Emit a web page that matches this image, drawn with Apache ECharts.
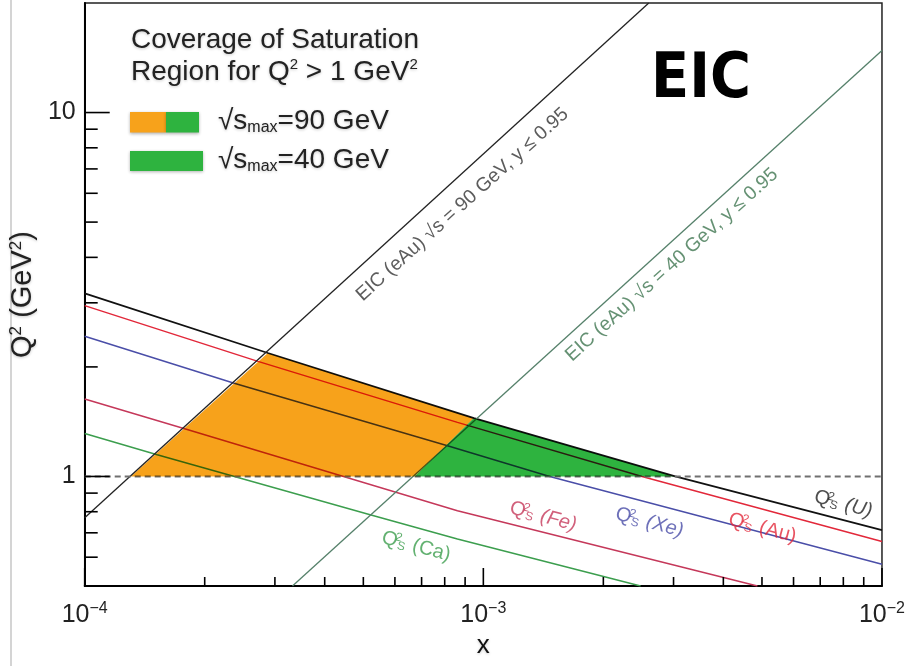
<!DOCTYPE html>
<html><head><meta charset="utf-8">
<script src="https://cdn.jsdelivr.net/npm/echarts@6/dist/echarts.min.js"></script>
<style>html,body{margin:0;padding:0;background:#fff}#c{width:908px;height:666px}</style>
</head><body><div id="c"></div>
<script>
// ---- data ----
const X_RANGE = [1e-4, 1e-2];
const Q2_RANGE = [0.5, 20];
const satU  = [[1e-4,3.186],[2.88e-4,2.184],[9.47e-4,1.447],[3.03e-3,1.0],[1e-2,0.712]];
const satAu = [[1e-4,2.947],[2.72e-4,2.071],[8.61e-4,1.408],[2.50e-3,1.0],[1e-2,0.663]];
const satXe = [[1e-4,2.427],[2.36e-4,1.807],[8.13e-4,1.214],[1.467e-3,1.0],[1e-2,0.574]];
const satFe = [[1e-4,1.633],[1.79e-4,1.350],[8.61e-4,0.805],[4.87e-3,0.5]];
const satCa = [[1e-4,1.313],[1.52e-4,1.147],[5.20e-4,0.785],[8.61e-4,0.673],[2.48e-3,0.5]];
const eic90 = [[1e-4,0.77],[2.6e-3,20]];
const eic40 = [[3.32e-4,0.5],[1e-2,14.8]];
const q2Cut = [[1e-4,1],[1e-2,1]];
const region90 = [[1.306e-4,1],[2.88e-4,2.184],[9.47e-4,1.447],[6.72e-4,1]];
const region40 = [[6.72e-4,1],[9.47e-4,1.447],[3.03e-3,1]];
const xMajorTicks = [1e-4,1e-3,1e-2];
const xTickExponents = ['\u22124','\u22123','\u22122'];
const xMinorTicks = [2e-4,3e-4,4e-4,5e-4,6e-4,7e-4,8e-4,9e-4,2e-3,3e-3,4e-3,5e-3,6e-3,7e-3,8e-3,9e-3];
const yMajorTicks = [1,10];
const yTickLabels = ['1','10'];
const yMinorTicks = [0.6,0.7,0.8,0.9,2,3,4,5,6,7,8,9];
// label anchor points (data coordinates)
const labelEIC90 = [8.86e-4,5.585];
const labelEIC40 = [2.971e-3,3.815];
const labelCa = [6.785e-4,0.642];
const labelFe = [1.413e-3,0.776];
const labelXe = [2.61e-3,0.747];
const labelAu = [5.015e-3,0.721];
const labelU  = [7.998e-3,0.839];

// ---- styles ----
const FONT = "'Liberation Sans', Arial, Helvetica, sans-serif";
const ORANGE = '#F7A21B', GREEN = '#2EB33F';
const C_U='#111111', C_AU='#E2283A', C_XE='#4A4EA8', C_FE='#C5385A', C_CA='#3C9E4E', C_E90='#222222';
const SHADOW = {textShadowColor:'rgba(0,0,0,0.22)', textShadowBlur:3, textShadowOffsetY:1};

const chart = echarts.init(document.getElementById('c'), null, {renderer:'canvas'});

function lineSeries(data, color, width, extra) {
  return Object.assign({type:'line', data, symbol:'none', silent:true, animation:false, z:2,
    lineStyle:{color, width}}, extra||{});
}
function tickSeries(values, axis, len) {
  return {type:'custom', silent:true, animation:false, clip:false, z:8,
    data: values.map(v => axis==='x' ? [v, Q2_RANGE[0]] : [X_RANGE[0], v]),
    renderItem(params, api) {
      const p = api.coord([api.value(0), api.value(1)]);
      const shape = axis==='x' ? {x1:p[0],y1:p[1],x2:p[0],y2:p[1]-len} : {x1:p[0],y1:p[1],x2:p[0]+len,y2:p[1]};
      return {type:'line', shape, style:{stroke:'#000', lineWidth:1.6}};
    }};
}
function regionSeries(region, color) {
  return {type:'custom', silent:true, animation:false, z:4, blendMode:'multiply',
    data:[region[0]],
    renderItem(params, api) {
      return {type:'polygon', shape:{points: region.map(p => api.coord(p))},
        style:{fill:color}};
    }};
}
const qRich = (color, italic) => ({
  q:{fontSize:20, color, fontFamily:FONT},
  sp:{fontSize:12, color, lineHeight:10, verticalAlign:'top', width:1, fontFamily:FONT},
  sb:{fontSize:12, color, lineHeight:10, verticalAlign:'bottom', fontFamily:FONT},
  n:{fontSize:20, color, fontStyle: italic ? 'italic' : 'normal', fontFamily:FONT, padding:[0,0,0,7]}
});
function labelItem(pos, text, rot, color, size, rich) {
  return {value: pos, label:{show:true, position:'inside', formatter:text, rotate:rot, color,
    fontSize:size, fontFamily:FONT, rich: rich||{}}};
}

const option = {
  backgroundColor:'#fff',
  animation:false,
  grid:{left:83, right:19, top:3, bottom:80, show:true, borderColor:'#222', borderWidth:1.5},
  xAxis:{type:'log', logBase:10, min:X_RANGE[0], max:X_RANGE[1],
    name:'x', nameLocation:'middle', nameGap:46,
    nameTextStyle:Object.assign({fontSize:26, color:'#111', fontFamily:FONT}, SHADOW),
    axisLine:{show:true, onZero:false, lineStyle:{color:'#000', width:2}},
    axisTick:{show:false}, splitLine:{show:false}, minorTick:{show:false},
    axisLabel:{margin:15, color:'#222',
      formatter(v){ const i = xMajorTicks.findIndex(t => Math.abs(Math.log10(t)-Math.log10(v))<1e-6);
        return i<0 ? '' : '{b|10}{e|'+xTickExponents[i]+'}'; },
      rich:{b:{fontSize:25, lineHeight:28, color:'#222', fontFamily:FONT},
            e:{fontSize:16, lineHeight:10, verticalAlign:'top', color:'#222', fontFamily:FONT}}}},
  yAxis:{type:'log', logBase:10, min:Q2_RANGE[0], max:Q2_RANGE[1],
    name:'Q{s|2} (GeV{s|2})', nameLocation:'middle', nameGap:36, nameRotate:90,
    nameTextStyle:Object.assign({fontSize:29, color:'#222', fontFamily:FONT,
      rich:{s:{fontSize:17, lineHeight:12, verticalAlign:'top', color:'#222', fontFamily:FONT}}}, SHADOW),
    axisLine:{show:true, onZero:false, lineStyle:{color:'#000', width:2}},
    axisTick:{show:false}, splitLine:{show:false}, minorTick:{show:false},
    axisLabel:{margin:9, fontSize:25, color:'#222', fontFamily:FONT,
      formatter(v){ const i = yMajorTicks.findIndex(t => Math.abs(Math.log10(t)-Math.log10(v))<1e-6);
        return i<0 ? '' : yTickLabels[i]; }}},
  series:[
    lineSeries(satCa, C_CA, 1.5),
    lineSeries(satFe, C_FE, 1.5),
    lineSeries(satXe, C_XE, 1.5),
    lineSeries(satAu, C_AU, 1.5),
    lineSeries(satU, C_U, 1.8),
    lineSeries(eic90, C_E90, 1.3),
    lineSeries(eic40, '#55806A', 1.3),
    lineSeries(q2Cut, '#707070', 2, {lineStyle:{color:'#707070', width:2, type:[6,4]}}),
    regionSeries(region90, ORANGE),
    regionSeries(region40, GREEN),
    tickSeries(xMajorTicks, 'x', 18),
    tickSeries(xMinorTicks, 'x', 9),
    tickSeries(yMajorTicks, 'y', 25),
    tickSeries(yMinorTicks, 'y', 13),
    {type:'scatter', silent:true, animation:false, z:9, symbolSize:1, itemStyle:{color:'transparent'},
      data:[
        labelItem(labelEIC90, 'EIC (eAu) \u221As = 90 GeV, y \u2264 0.95', 42, '#333', 19.5),
        labelItem(labelEIC40, 'EIC (eAu) \u221As = 40 GeV, y \u2264 0.95', 42, '#3E7550', 19.5),
        labelItem(labelCa, '{q|Q}{sp|2}{sb|S}{n|(Ca)}', -15, C_CA, 20, qRich(C_CA,false)),
        labelItem(labelFe, '{q|Q}{sp|2}{sb|S}{n|(Fe)}', -15, C_FE, 20, qRich(C_FE,true)),
        labelItem(labelXe, '{q|Q}{sp|2}{sb|S}{n|(Xe)}', -15, C_XE, 20, qRich(C_XE,true)),
        labelItem(labelAu, '{q|Q}{sp|2}{sb|S}{n|(Au)}', -15, C_AU, 20, qRich(C_AU,false)),
        labelItem(labelU,  '{q|Q}{sp|2}{sb|S}{n|(U)}', -15, '#222', 20, qRich('#222',true))
      ]}
  ],
  graphic:[
    {type:'line', shape:{x1:11,y1:0,x2:11,y2:666}, style:{stroke:'#d4d4d4', lineWidth:2}, z:0},
    {type:'text', x:131, y:40, z:10, style:Object.assign({text:'Coverage of Saturation', fontSize:28, fontFamily:FONT, fill:'#222',
      align:'left', verticalAlign:'middle'}, SHADOW)},
    {type:'text', x:131, y:72, z:10, style:Object.assign({text:'{m|Region for Q}{s|2}{m| > 1 GeV}{s|2}', fill:'#222',
      align:'left', verticalAlign:'middle', fontFamily:FONT,
      rich:{m:{fontSize:28, lineHeight:30, fill:'#222', fontFamily:FONT},
            s:{fontSize:15, lineHeight:13, verticalAlign:'top', fill:'#222', fontFamily:FONT}}}, SHADOW)},
    {type:'rect', shape:{x:130,y:112,width:36,height:20.5}, style:{fill:ORANGE, shadowColor:'rgba(0,0,0,0.3)', shadowBlur:3, shadowOffsetY:1}, z:10},
    {type:'rect', shape:{x:166,y:112,width:33,height:20.5}, style:{fill:GREEN, shadowColor:'rgba(0,0,0,0.3)', shadowBlur:3, shadowOffsetY:1}, z:10},
    {type:'rect', shape:{x:130,y:151,width:73,height:20}, style:{fill:GREEN, shadowColor:'rgba(0,0,0,0.3)', shadowBlur:3, shadowOffsetY:1}, z:10},
    {type:'text', x:218, y:121, z:10, style:Object.assign({text:'{m|\u221As}{b|max}{m|=90 GeV}', align:'left', verticalAlign:'middle',
      rich:{m:{fontSize:28, lineHeight:30, fill:'#222', fontFamily:FONT},
            b:{fontSize:16, lineHeight:10, verticalAlign:'bottom', fill:'#222', fontFamily:FONT}}}, SHADOW)},
    {type:'text', x:218, y:160, z:10, style:Object.assign({text:'{m|\u221As}{b|max}{m|=40 GeV}', align:'left', verticalAlign:'middle',
      rich:{m:{fontSize:28, lineHeight:30, fill:'#222', fontFamily:FONT},
            b:{fontSize:16, lineHeight:10, verticalAlign:'bottom', fill:'#222', fontFamily:FONT}}}, SHADOW)},
    {type:'text', x:701, y:81, z:10, style:{text:'EIC', fontSize:62, fontWeight:'bold',
      fontFamily:"'Liberation Sans Narrow', 'DejaVu Sans Condensed', Roboto, sans-serif", fill:'#000',
      align:'center', verticalAlign:'middle'}}
  ]
};
chart.setOption(option);
</script></body></html>
